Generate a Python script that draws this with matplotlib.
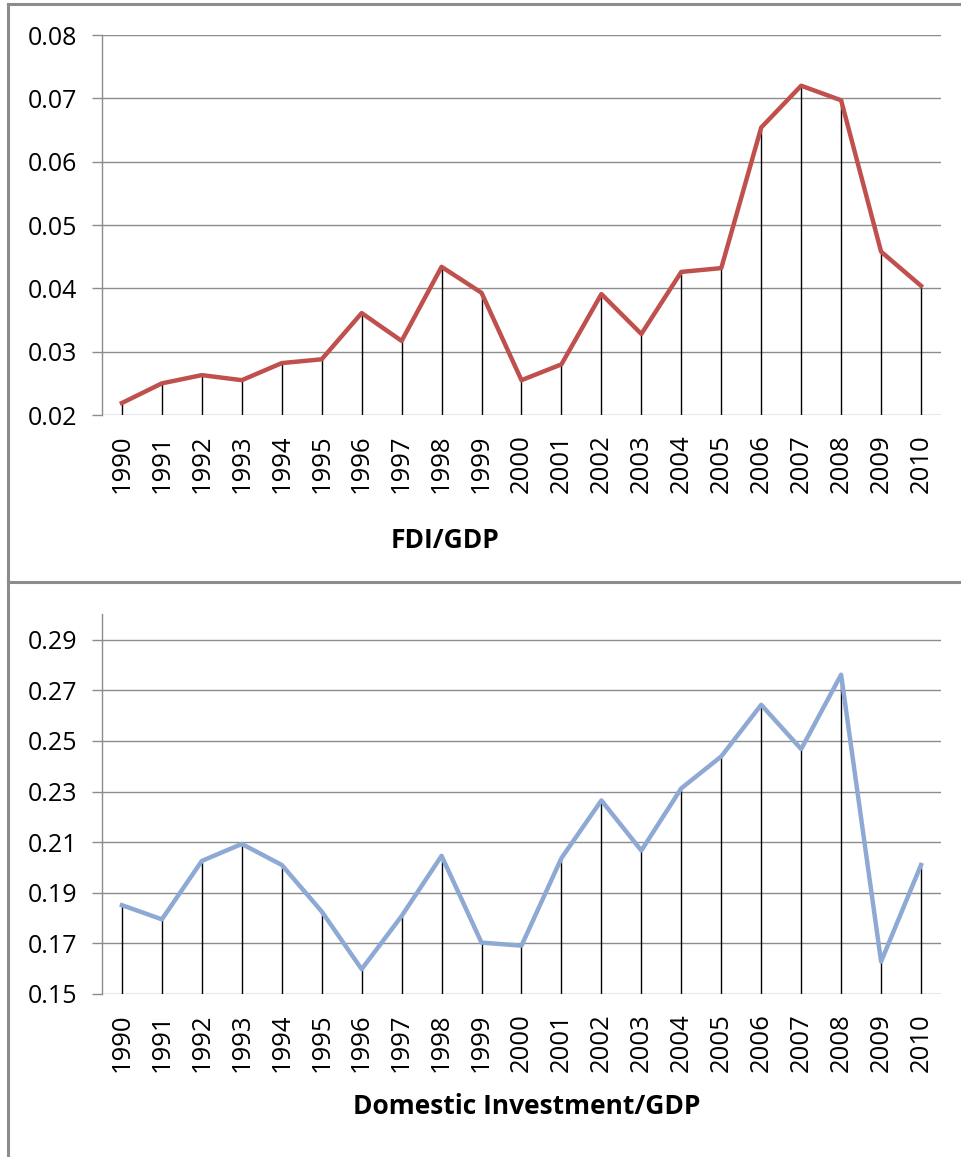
import numpy as np
import matplotlib
matplotlib.use("Agg")
import matplotlib.pyplot as plt
from matplotlib.lines import Line2D

plt.rcParams['font.family'] = ['Open Sans', 'DejaVu Sans']

years = [str(y) for y in range(1990, 2011)]
fdi_gdp = [0.0219, 0.0250, 0.0263, 0.0255, 0.0282, 0.0288, 0.0361, 0.0317,
           0.0434, 0.0393, 0.0255, 0.0280, 0.0391, 0.0328, 0.0426, 0.0432,
           0.0654, 0.0720, 0.0697, 0.0458, 0.0404]
dom_inv_gdp = [0.1851, 0.1795, 0.2026, 0.2093, 0.2010, 0.1826, 0.1598, 0.1808,
               0.2046, 0.1703, 0.1691, 0.2037, 0.2265, 0.2067, 0.2313, 0.2439,
               0.2643, 0.2468, 0.2762, 0.1628, 0.2010]

fdi_ticks = [0.02, 0.03, 0.04, 0.05, 0.06, 0.07, 0.08]
dom_ticks = [0.15, 0.17, 0.19, 0.21, 0.23, 0.25, 0.27, 0.29]

fig = plt.figure(figsize=(9.61, 11.57), dpi=100)

grid_col = '#8c8c8c'


def panel(rect, values, color, ylim, ticks, title, title_x, title_y):
    ax = fig.add_axes(rect)
    x = np.arange(len(values))
    # drop lines from each point down to the axis
    ax.vlines(x, ylim[0], values, color='black', lw=1, zorder=2)
    ax.plot(x, values, color=color, lw=3.2, zorder=3)
    ax.set_xlim(-0.5, len(values) - 0.5)
    ax.set_ylim(*ylim)
    ax.set_yticks(ticks)
    ax.set_yticklabels(['%.2f' % t for t in ticks])
    ax.set_xticks(x)
    ax.set_xticklabels(years, rotation=90)
    ax.yaxis.grid(True, color=grid_col, lw=1)
    ax.set_axisbelow(True)
    for s in ['top', 'right', 'bottom']:
        ax.spines[s].set_visible(False)
    ax.spines['left'].set_color(grid_col)
    ax.spines['left'].set_linewidth(1)
    ax.tick_params(axis='y', length=7, color=grid_col, width=1, pad=11, labelsize=18)
    ax.tick_params(axis='x', length=0, pad=14, labelsize=18.5)
    fig.text(title_x, title_y, title, ha='center', va='center',
             fontsize=19, fontweight='bold')
    return ax


panel([0.1061, 0.6413, 0.8731, 0.3284], fdi_gdp, '#C0504D', (0.02, 0.08),
      fdi_ticks, 'FDI/GDP', 445 / 961, 1 - 541 / 1157)
panel([0.1061, 0.1409, 0.8731, 0.3280], dom_inv_gdp, '#8DA9D4', (0.15, 0.30),
      dom_ticks, 'Domestic Investment/GDP', 527 / 961, 1 - 1107 / 1157)

# panel borders
W, H = 961, 1157
border = dict(color='#8c8c8c', lw=2.2, transform=fig.transFigure)
fig.add_artist(Line2D([8 / W, 8 / W], [0, 1 - 4 / H], **border))
fig.add_artist(Line2D([8 / W, 1], [1 - 4 / H, 1 - 4 / H], **border))
fig.add_artist(Line2D([8 / W, 1], [1 - 582 / H, 1 - 582 / H], **border))

fig.savefig('out.png', dpi=100)
